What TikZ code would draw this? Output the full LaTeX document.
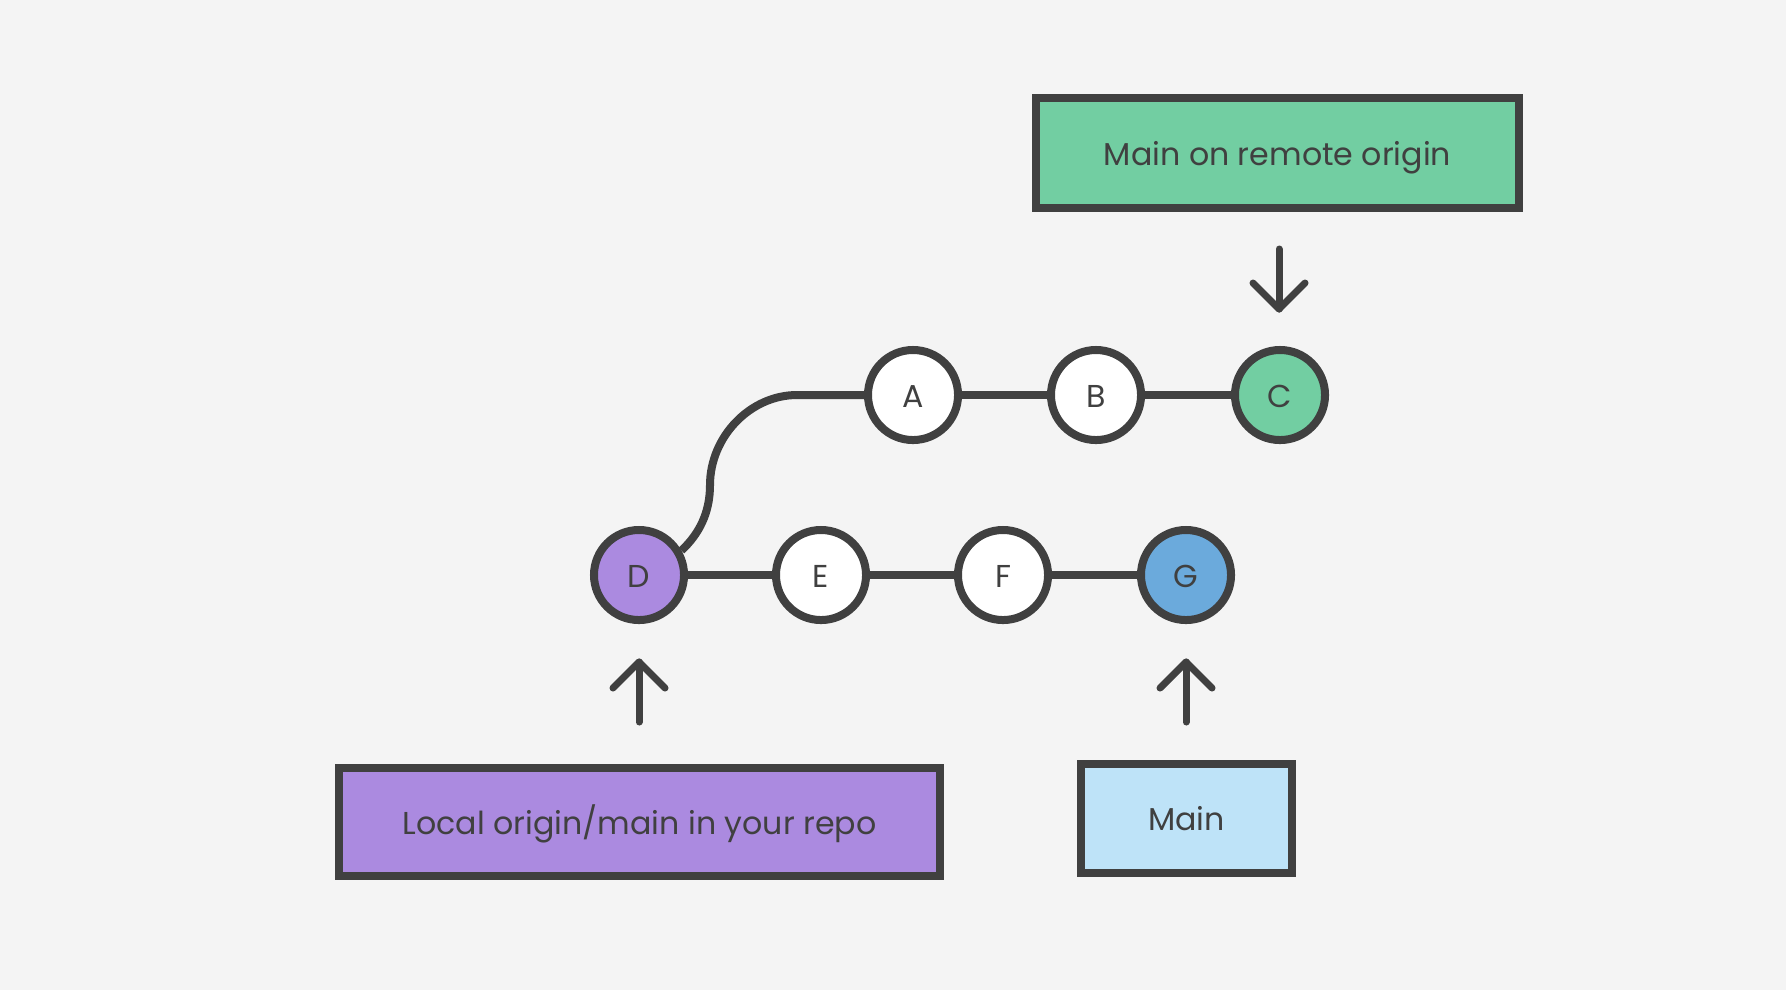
\documentclass[tikz,border=0pt]{standalone}
\usepackage{fontspec}
\setmainfont{Poppins}
\definecolor{bg}{HTML}{F4F4F4}
\definecolor{ink}{HTML}{404040}
\definecolor{green}{HTML}{72CEA2}
\definecolor{purple}{HTML}{AB8AE0}
\definecolor{blue}{HTML}{6BAADC}
\definecolor{lightblue}{HTML}{BEE3F8}
\begin{document}
\begin{tikzpicture}[x=0.01cm,y=-0.01cm,
  txt/.style={font=\fontsize{9}{10}\selectfont, text=ink, text height=0.7em, text depth=0pt},
  commit/.style={circle, draw=ink, line width=0.08cm, minimum size=0.9cm, inner sep=0pt, fill=white, txt},
  labelbox/.style={rectangle, draw=ink, line width=0.08cm, inner sep=0pt, txt},
  edge/.style={draw=ink, line width=0.08cm},
  pointer/.style={draw=ink, line width=0.07cm, line cap=round, line join=round}]
\useasboundingbox[fill=bg] (0,0) rectangle (1786,990);

% commits
\node[commit] (A) at (913,395) {A};
\node[commit] (B) at (1096,395) {B};
\node[commit, fill=green] (C) at (1280,395) {C};
\node[commit, fill=purple] (D) at (639,575) {D};
\node[commit] (E) at (821,575) {E};
\node[commit] (F) at (1003,575) {F};
\node[commit, fill=blue] (G) at (1186,575) {G};

% history lines
\draw[edge] (A) -- (B);
\draw[edge] (B) -- (C);
\draw[edge] (D) -- (E);
\draw[edge] (E) -- (F);
\draw[edge] (F) -- (G);
\draw[edge] (A.west) -- (797,395) .. controls (750,395) and (710,437) .. (710,485)
  .. controls (710,513) and (699,534) .. (D.30);

% label boxes
\node[labelbox, fill=green, minimum width=4.83cm, minimum height=1.10cm] (remote) at (1277.5,153) {Main on remote origin};
\node[labelbox, fill=purple, minimum width=6.01cm, minimum height=1.08cm] (local) at (639.5,822) {Local origin/main in your repo};
\node[labelbox, fill=lightblue, minimum width=2.11cm, minimum height=1.09cm] (main) at (1186.5,818.5) {Main};

% pointer arrows
\coordinate (rTail) at (1279,249);
\coordinate (rTip) at (1279,309);
\draw[pointer] (rTail) -- (rTip);
\draw[pointer] ([shift={(-26,-26)}]rTip) -- (rTip) -- ([shift={(26,-26)}]rTip);

\coordinate (lTail) at (639,722);
\coordinate (lTip) at (639,662);
\draw[pointer] (lTail) -- (lTip);
\draw[pointer] ([shift={(-26,26)}]lTip) -- (lTip) -- ([shift={(26,26)}]lTip);

\coordinate (mTail) at (1186,722);
\coordinate (mTip) at (1186,662);
\draw[pointer] (mTail) -- (mTip);
\draw[pointer] ([shift={(-26,26)}]mTip) -- (mTip) -- ([shift={(26,26)}]mTip);
\end{tikzpicture}
\end{document}
